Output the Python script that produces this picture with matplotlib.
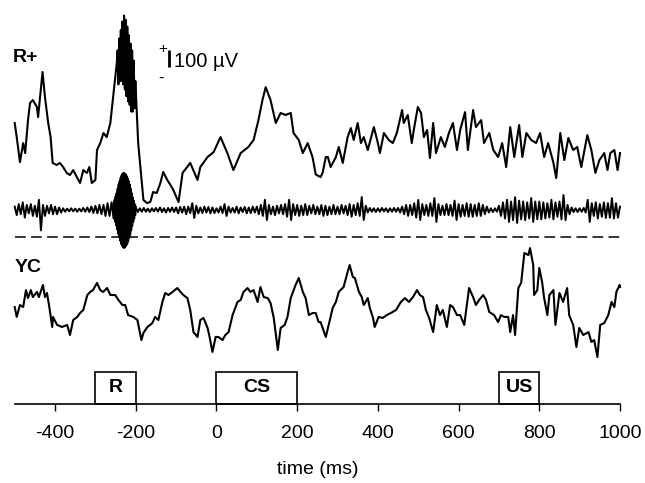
import numpy as np
import matplotlib
matplotlib.use("Agg")
import matplotlib.pyplot as plt
from matplotlib.patches import Rectangle

plt.rcParams['font.family'] = ['Liberation Sans', 'DejaVu Sans']
plt.rcParams['axes.unicode_minus'] = False

# ---------------- data (time in ms, amplitude in microvolts) ----------------
rplus_t = [-500, -495, -487, -479, -474, -467, -462, -455, -445, -442, -437, -431, -425, -417,
           -411, -406, -396, -388, -380, -371, -363, -355, -346, -338, -330, -321, -315, -309,
           -300, -296, -288, -280, -272, -263, -256, -247,
           -245, -243, -241, -239, -237, -235, -233, -231, -229, -227, -225, -223, -221, -219,
           -217, -215, -213, -211, -209, -207, -205, -203, -201,
           -194, -185, -181, -172, -164, -157, -148, -139, -132, -122, -114, -107, -94, -84,
           -65, -47, -40, -22, -7, 10, 27, 42, 60, 79, 92, 104, 114, 122, 134, 147, 159, 171,
           184, 191, 204, 214, 226, 238, 246, 258, 263, 271, 276, 283, 296, 303, 313, 325,
           333, 340, 350, 358, 365, 375, 390, 400, 405, 415, 427, 437, 447, 460, 464, 474,
           484, 489, 499, 507, 514, 522, 529, 537, 544, 556, 566, 576, 586, 596, 604, 616,
           623, 636, 643, 656, 663, 676, 686, 698, 708, 718, 728, 738, 750, 758, 768, 780,
           792, 802, 812, 822, 835, 842, 852, 862, 872, 884, 894, 904, 919, 929, 939, 949,
           961, 969, 976, 986, 994, 1000]
rplus_v = [453, 370, 223, 335, 276, 470, 570, 588, 547, 488, 606, 753, 606, 453,
           370, 218, 206, 218, 194, 159, 147, 176, 135, 100, 176, 159, 194, 100,
           118, 294, 335, 394, 370, 453, 606, 806,
           880, 680, 950, 700, 1000, 700, 1050, 680, 1085, 650, 1060, 610, 1020, 580,
           970, 560, 920, 520, 880, 520, 820, 540, 700,
           335, 100, 0, -18, -12, 47, 41, 100, 165, 118, 88, 59, -12, 159,
           218, 118, 194, 253, 282, 370, 276, 176, 276, 312, 353, 470, 588, 664, 588, 453, 512, 500,
           512, 394, 353, 276, 335, 253, 150, 135, 159, 253, 253, 194, 253, 312, 218, 370,
           423, 353, 453, 335, 370, 294, 429, 335, 276, 394, 353, 335, 394, 529, 453, 500,
           335, 412, 547, 512, 370, 412, 247, 453, 276, 370, 312, 394, 453, 294, 412, 517,
           294, 529, 429, 470, 335, 394, 294, 253, 335, 194, 429, 253, 441, 253, 394, 353,
           335, 394, 253, 335, 218, 129, 394, 235, 365, 294, 312, 194, 382, 294, 159, 235,
           276, 176, 276, 294, 176, 276]

# filtered (unit activity) trace, sampled every 5 ms from -500 to 1000
filt_v = [
    20, -30, 35, -25, 45, -45, 30, -20, 35, -35, 25, -40, 60, -120, 30, -35, 25, -20, 30, -25,
    20, -25, 15, -15, 10, -10, 8, -8, 10, -8, 8, -10, 8, -8, 12, -10, 15, -12, 20, -18,
    25, -20, 30, -25, 30, -35, 40, -35, 45, -50, 0, 0, 0, 0, 0, 0, 0, 0, 0, 0,
    15, -12, 10, -10, 12, -10, 8, -12, 10, -8, 12, -10, 15, -12, 10, -15, 12, -10, 15, -12,
    15, -20, 18, -15, 20, -25, 20, -18, 40, -47, 25, -20, 15, -18, 20, -15, 18, -20, 15, -18,
    10, -15, 20, -18, 35, -35, 20, -15, 12, -15, 20, -20, 15, -12, 18, -20, 15, -18, 20, -15,
    20, -25, 30, -35, 60, -59, 30, -25, 20, -30, 25, -20, 30, -25, 35, -40, 60, -59, 35, -30,
    30, -35, 25, -30, 35, -30, 25, -20, 30, -25, 20, -25, 30, -35, 25, -30, 20, -25, 30, -25,
    20, -25, 30, -20, 25, -30, 35, -40, 30, -30, 40, -35, 76, -59, 25, -15, 12, -10, 10, -12,
    10, -10, 12, -8, 10, -12, 10, -10, 12, -10, 12, -15, 20, -25, 30, -35, 30, -30, 40, -45,
    59, -59, 35, -30, 30, -35, 40, -35, 70, -70, 35, -30, 25, -30, 35, -30, 30, -35, 55, -59,
    35, -40, 30, -35, 40, -40, 35, -40, 30, -35, 40, -35, 30, -25, 20, -15, 10, -12, 10, -10,
    25, -35, 45, -50, 60, -70, 50, -60, 75, -76, 55, -55, 50, -60, 45, -50, 70, -70, 50, -55,
    50, -55, 45, -50, 40, -45, 60, -55, 45, -40, 50, -55, 88, -60, 30, -25, 15, -12, 10, -12,
    10, -10, 12, -15, 60, -70, 40, -35, 45, -50, 35, -40, 45, -47, 40, -45, 70, -50, 40, -45,
    20]
# high-frequency burst of the filtered trace, sampled every 1.25 ms from -255 to -200
burst_v = [40, -50, 60, -70, 80, -90, 100, -115, 125, -140, 150, -160, 170, -180, 190, -200,
           205, -210, 215, -220, 218, -223, 215, -220, 210, -210, 200, -200, 185, -185, 170,
           -165, 150, -145, 125, -120, 100, -95, 75, -70, 55, -50, 35, -30, 20]

yc_t = [-500, -495, -487, -479, -472, -467, -460, -455, -445, -440, -430, -425, -420, -415,
        -407, -405, -395, -383, -370, -363, -355, -345, -338, -330, -320, -313, -306, -296,
        -288, -281, -271, -263, -251, -243, -233, -226, -219, -206, -196, -186, -181, -171,
        -159, -152, -144, -134, -127, -119, -109, -97, -89, -82, -72, -65, -57, -47, -40,
        -32, -22, -17, -10, -2, 5, 15, 22, 30, 40, 52, 60, 67, 77, 84, 92, 102, 109, 117,
        127, 134, 142, 152, 159, 169, 176, 184, 196, 204, 214, 221, 229, 238, 246, 253, 258,
        271, 278, 288, 296, 303, 315, 325, 330, 338, 343, 353, 360, 365, 375, 380, 388, 392,
        402, 412, 422, 432, 445, 457, 467, 477, 487, 497, 504, 512, 519, 527, 537, 546, 554,
        561, 571, 579, 586, 596, 604, 614, 626, 636, 643, 651, 661, 668, 676, 688, 698, 705,
        713, 723, 728, 735, 740, 748, 755, 763, 773, 777, 785, 787, 795, 800, 807, 812, 820,
        825, 835, 840, 850, 859, 869, 874, 884, 892, 899, 909, 922, 929, 936, 944, 951, 961,
        971, 979, 986, 991, 999, 1000]
yc_v = [76, 18, 88, 76, 176, 129, 176, 135, 165, 135, 206, 135, 159, 88,
        -41, 18, -29, -41, -29, -88, 0, 18, 41, 59, 147, 165, 176, 218,
        176, 165, 188, 147, 147, 118, 88, 88, 29, 18, 0, -118, -76, -41,
        -18, 18, 0, 106, 159, 147, 165, 188, 165, 147, 129, 59, -71, -100, 0,
        12, -47, -100, -188, -100, -100, -118, -88, -71, 29, 106, 118, 165, 188, 165, 176, 106, 194, 135,
        129, 100, 12, -176, -47, -29, 18, 129, 206, 247, 165, 129, 29, 41, 41, -12, -12,
        -100, -29, 71, 106, 165, 194, 282, 323, 253, 247, 165, 135, 88, 129, 71, 12, -41,
        18, 12, 29, 41, 59, 106, 129, 106, 135, 176, 147, 135, 59, 12, -71, 88, 29,
        59, -41, 88, 76, 29, 29, -29, 188, 135, 88, 118, 147, 118, 47, 29, -12, 29,
        18, 18, -71, 29, -88, 188, 218, 394, 382, 423, 323, 147, 176, 306, 223, 129, 29,
        147, 176, -29, 159, 106, 188, 29, -29, -159, -47, -88, -71, -129, -118, -218, -29, -18,
        29, 106, 76, 165, 206, 194]

tick_vals = [-400, -200, 0, 200, 400, 600, 800, 1000]
tick_labels = ['-400', '-200', '0', '200', '400', '600', '800', '1000']
events = ['R', 'CS', 'US']
event_start = [-300, 0, 700]
event_end = [-200, 200, 800]

# ---------------- layout ----------------
UV_PER_PX = 100 / 17.0
Y_TOP = 404 * UV_PER_PX
OFF_R = 204 * UV_PER_PX
OFF_F = 194 * UV_PER_PX
OFF_DASH = 167.3 * UV_PER_PX
OFF_YC = 84 * UV_PER_PX

fig = plt.figure(figsize=(6.45, 4.83), dpi=100)
ax = fig.add_axes([14.7 / 645, 79 / 483, (620 - 14.7) / 645, 404 / 483])
ax.set_xlim(-500, 1000)
ax.set_ylim(0, Y_TOP)

ink = 'black'
ax.plot(rplus_t, np.array(rplus_v) + OFF_R, color=ink, lw=1.5, clip_on=False)

filt_t = np.arange(-500, 1000.1, 5)
ax.plot(filt_t, np.array(filt_v) + OFF_F, color=ink, lw=1.4, clip_on=False)
burst_t = np.arange(-255, -199.9, 1.25)
ax.plot(burst_t, np.array(burst_v) + OFF_F, color=ink, lw=1.4, clip_on=False)

ax.plot([-500, 1000], [OFF_DASH, OFF_DASH], color=ink, lw=1.1, dashes=(7, 3.5), clip_on=False)

ax.plot(yc_t, np.array(yc_v) + OFF_YC, color=ink, lw=1.5, clip_on=False)

# labels of traces
ax.text(-505, 2040, 'R+', fontsize=14, fontweight='bold', ha='left', va='center')
ax.text(-500, 800, 'YC', fontsize=14, fontweight='bold', ha='left', va='center')

# scale bar
sb_x = -117
sb_top = (404 - 50) * UV_PER_PX
ax.plot([sb_x, sb_x], [sb_top, sb_top - 100], color=ink, lw=2.0, solid_capstyle='butt', clip_on=False)
ax.text(sb_x - 17, sb_top + 7, '+', fontsize=11, ha='center', va='center')
ax.text(sb_x - 20, sb_top - 165, '-', fontsize=12, ha='center', va='center')
ax.text(sb_x + 13, sb_top - 68, '100 \u00b5V', fontsize=14.5, ha='left', va='center')

# event boxes
trans = ax.get_xaxis_transform()
box_h = 32 / 404
for name, s, e in zip(events, event_start, event_end):
    ax.add_patch(Rectangle((s, 0), e - s, box_h, transform=trans, fill=False,
                           edgecolor=ink, lw=1.2, clip_on=False))
    ax.text((s + e) / 2, box_h / 2, name, transform=trans, fontsize=14,
            fontweight='bold', ha='center', va='center')

# axis styling
for sp in ['top', 'left', 'right']:
    ax.spines[sp].set_visible(False)
ax.spines['bottom'].set_linewidth(1.2)
ax.set_yticks([])
ax.set_xticks(tick_vals)
ax.set_xticklabels(tick_labels)
ax.tick_params(axis='x', direction='out', length=5, width=1.0, labelsize=14, pad=10)
ax.set_xlabel('time (ms)', fontsize=14, labelpad=14)

fig.savefig('out.png', dpi=100)
